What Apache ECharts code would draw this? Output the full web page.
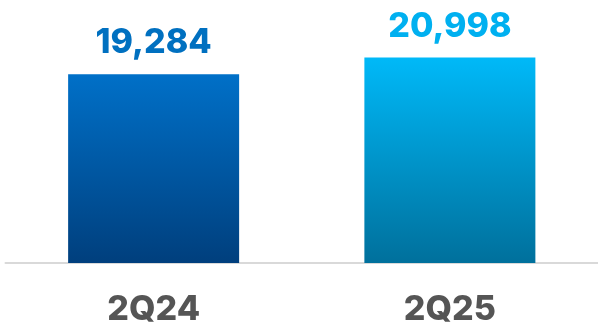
<!DOCTYPE html>
<html>
<head>
<meta charset="utf-8">
<script src="https://cdn.jsdelivr.net/npm/echarts@6/dist/echarts.min.js"></script>
<style>
  html, body { margin: 0; padding: 0; background: #ffffff; }
  #chart { width: 598px; height: 330px; }
</style>
</head>
<body>
<div id="chart"></div>
<script>
// Quarterly totals
const categories = ['2Q24', '2Q25'];
const values = [19284, 20998];

// Per-bar styling: label colour and vertical gradient stops (top -> bottom)
const labelColors = ['#0070c0', '#00b0f0'];
const gradientStops = [
  ['#0070c8', '#003f7d'],
  ['#00b9f8', '#00709c']
];

const chart = echarts.init(document.getElementById('chart'), null, { renderer: 'canvas' });

const fontFamily = 'Inter, "Liberation Sans", Arial, sans-serif';

chart.setOption({
  animation: false,
  backgroundColor: '#ffffff',
  grid: { left: 5.5, right: -3.5, top: 8.5, bottom: 67 },
  xAxis: {
    type: 'category',
    data: categories,
    axisLine: { show: true, lineStyle: { color: '#d9d9d9', width: 2 } },
    axisTick: { show: false },
    axisLabel: {
      margin: 30,
      color: '#555555',
      fontSize: 34,
      fontWeight: 800,
      fontFamily: fontFamily
    }
  },
  yAxis: {
    type: 'value',
    min: 0,
    max: 26000,
    show: false,
    splitLine: { show: false }
  },
  series: [{
    type: 'bar',
    barWidth: 171,
    data: values.map((v, i) => ({
      value: v,
      itemStyle: {
        color: new echarts.graphic.LinearGradient(0, 0, 0, 1, [
          { offset: 0, color: gradientStops[i][0] },
          { offset: 1, color: gradientStops[i][1] }
        ])
      },
      label: { color: labelColors[i] }
    })),
    label: {
      show: true,
      position: 'top',
      distance: 14,
      fontSize: 34,
      fontWeight: 800,
      fontFamily: fontFamily,
      formatter: p => p.value.toLocaleString('en-US')
    }
  }]
});
</script>
</body>
</html>
